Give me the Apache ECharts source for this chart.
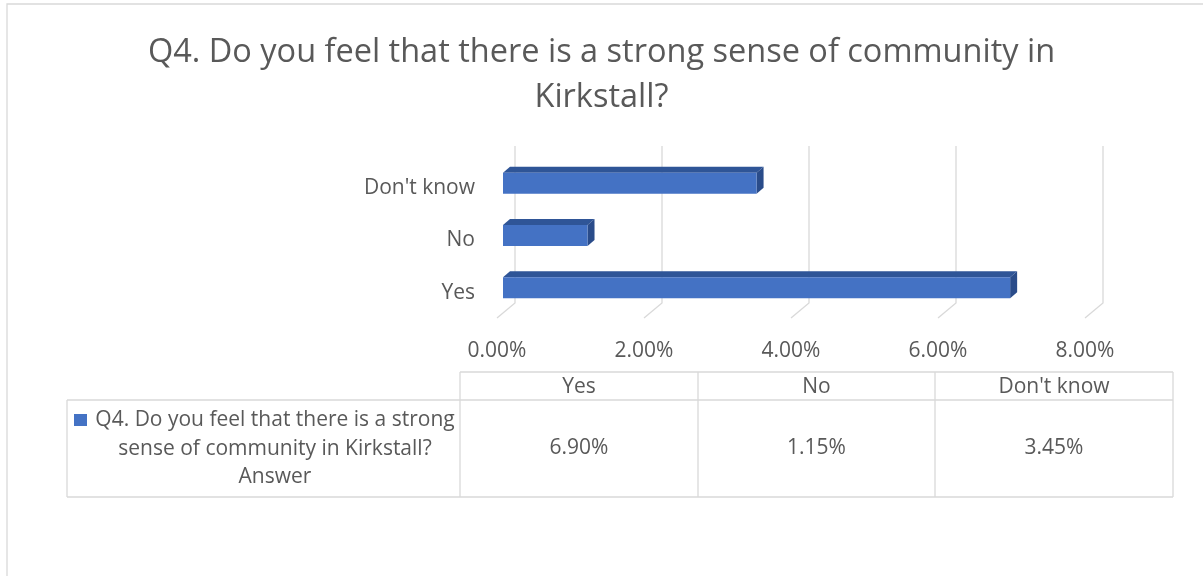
<!DOCTYPE html>
<html>
<head>
<meta charset="utf-8">
<script src="https://cdn.jsdelivr.net/npm/echarts@6/dist/echarts.min.js"></script>
<style>
html,body{margin:0;padding:0;background:#fff;}
#chart{width:1203px;height:576px;}
</style>
</head>
<body>
<div id="chart"></div>
<script>
// ---- data ----
const titleText = 'Q4. Do you feel that there is a strong sense of community in\nKirkstall?';
const categories = ['Yes', 'No', "Don't know"];
const seriesNameLines = ['Q4. Do you feel that there is a strong', 'sense of community in Kirkstall?', 'Answer'];
const values = [6.90, 1.15, 3.45];
const xTicks = [0, 2, 4, 6, 8];

// ---- style ----
const FONT = 'Open Sans';
const TXT = '#595959';
const LINE = '#D9D9D9';
const BLUE = '#4472C4';
const FS = 21;

const chart = echarts.init(document.getElementById('chart'));

// 3D offsets
const BACK_DX = 12, BACK_DY = -11;     // back wall relative to bar front plane
const FLOOR_DX = -6, FLOOR_DY = 4;     // floor front edge relative to bar front plane
const DEPTH_DX = 7, DEPTH_DY = -6;     // bar depth
const BAR_H = 21;

function gridItem(params, api) {
  const cs = params.coordSys;
  const p = api.coord([api.value(0), 0]);
  const xb = p[0] + BACK_DX;
  const yTop = cs.y + BACK_DY;
  const yBot = cs.y + cs.height + BACK_DY;
  return {
    type: 'polyline',
    shape: { points: [[xb, yTop], [xb, yBot], [p[0] + FLOOR_DX, cs.y + cs.height + FLOOR_DY]] },
    style: { stroke: LINE, lineWidth: 1.3, fill: 'none' },
    silent: true
  };
}

function barItem(params, api) {
  const ci = api.value(1);
  const a = api.coord([0, ci]);
  const b = api.coord([api.value(0), ci]);
  const x0 = a[0], x1 = b[0];
  const y0 = a[1] - BAR_H / 2, y1 = a[1] + BAR_H / 2;
  return {
    type: 'group',
    children: [
      { type: 'polygon', shape: { points: [[x0, y0], [x0 + DEPTH_DX, y0 + DEPTH_DY], [x1 + DEPTH_DX, y0 + DEPTH_DY], [x1, y0]] },
        style: { fill: '#2F5597' } },
      { type: 'polygon', shape: { points: [[x1, y0], [x1 + DEPTH_DX, y0 + DEPTH_DY], [x1 + DEPTH_DX, y1 + DEPTH_DY], [x1, y1]] },
        style: { fill: '#2A4C8A' } },
      { type: 'rect', shape: { x: x0, y: y0, width: x1 - x0, height: BAR_H },
        style: { fill: BLUE } }
    ]
  };
}

// data table
const colX = [460, 698, 935, 1173];
const tLeft = 67, tTop = 372, tMid = 400, tBot = 497;
const graphics = [];
function hline(x1, x2, y) { graphics.push({ type: 'line', shape: { x1, y1: y, x2, y2: y }, style: { stroke: LINE, lineWidth: 1.3 }, silent: true }); }
function vline(x, y1, y2) { graphics.push({ type: 'line', shape: { x1: x, y1, x2: x, y2 }, style: { stroke: LINE, lineWidth: 1.3 }, silent: true }); }
// outer chart frame
graphics.push({ type: 'polyline', shape: { points: [[7, 576], [7, 4], [1203, 4]] }, style: { stroke: LINE, lineWidth: 1.3, fill: 'none' }, silent: true });
hline(colX[0], colX[3], tTop);
hline(tLeft, colX[3], tMid);
hline(tLeft, colX[3], tBot);
colX.forEach(x => vline(x, tTop, tBot));
vline(tLeft, tMid, tBot);
const font = FS + 'px "' + FONT + '"';
categories.forEach((c, i) => {
  const cx = (colX[i] + colX[i + 1]) / 2;
  graphics.push({ type: 'text', x: cx, y: (tTop + tMid) / 2 + 1, style: { text: c, fill: TXT, font, textAlign: 'center', textVerticalAlign: 'middle' } });
  graphics.push({ type: 'text', x: cx, y: (tMid + tBot) / 2, style: { text: values[i].toFixed(2) + '%', fill: TXT, font, textAlign: 'center', textVerticalAlign: 'middle' } });
});
// legend key + series name
graphics.push({ type: 'rect', shape: { x: 74, y: 414, width: 13, height: 12 }, style: { fill: BLUE } });
graphics.push({ type: 'text', x: 275, y: 449, style: {
  text: seriesNameLines.join('\n'),
  fill: TXT, font, textAlign: 'center', textVerticalAlign: 'middle', lineHeight: 28.5 } });

const option = {
  backgroundColor: '#fff',
  animation: false,
  title: {
    text: titleText,
    left: 'center', top: 25,
    textStyle: { fontFamily: FONT, fontSize: 32.5, fontWeight: 'normal', color: TXT, lineHeight: 45 }
  },
  grid: { left: 503, right: 112, top: 157, bottom: 262 },
  xAxis: {
    type: 'value', min: 0, max: 8, interval: 2,
    axisLine: { show: false }, axisTick: { show: false }, splitLine: { show: false },
    axisLabel: {
      formatter: v => v.toFixed(2) + '%',
      color: TXT, fontFamily: FONT, fontSize: FS, margin: 27,
      padding: [0, 12, 0, 0]
    }
  },
  yAxis: {
    type: 'category', data: categories,
    axisLine: { show: false }, axisTick: { show: false },
    axisLabel: { color: TXT, fontFamily: FONT, fontSize: FS, margin: 28, verticalAlign: 'top', lineHeight: 10 }
  },
  series: [
    { type: 'custom', name: 'grid3d', renderItem: gridItem, data: xTicks.map(v => [v, 0]), silent: true, z: 1 },
    { type: 'custom', name: 'Answer', renderItem: barItem, data: values.map((v, i) => [v, i]), z: 2 }
  ],
  graphic: graphics
};
chart.setOption(option);
</script>
</body>
</html>
